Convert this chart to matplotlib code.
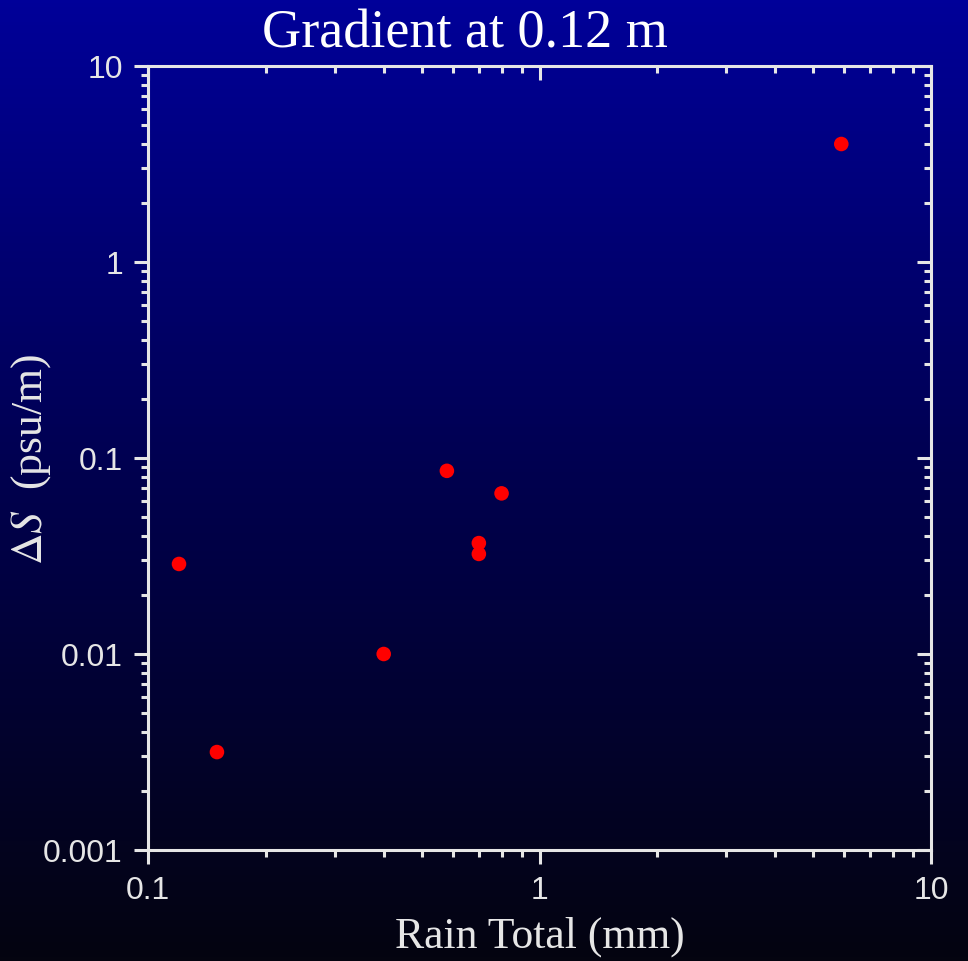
import numpy as np
import matplotlib.pyplot as plt
from matplotlib.colors import LinearSegmentedColormap
from matplotlib.ticker import LogLocator, FixedLocator, NullFormatter

# Data
rain_total = [5.9, 0.12, 0.15, 0.4, 0.58, 0.8, 0.7, 0.7]
delta_s = [4.0, 0.0288, 0.00316, 0.01, 0.086, 0.066, 0.0368, 0.0324]

x_ticks = [0.1, 1, 10]
x_labels = ['0.1', '1', '10']
y_ticks = [0.001, 0.01, 0.1, 1, 10]
y_labels = ['0.001', '0.01', '0.1', '1', '10']

plt.rcParams['mathtext.fontset'] = 'stix'

fig = plt.figure(figsize=(9.68, 9.62), dpi=100)

# Blue-to-black gradient background
bg = fig.add_axes([0, 0, 1, 1], zorder=-10)
cmap = LinearSegmentedColormap.from_list('bg', ['#000099', '#00004e', '#040410'])
grad = np.linspace(0, 1, 256).reshape(-1, 1)
bg.imshow(grad, aspect='auto', cmap=cmap, extent=[0, 1, 0, 1])
bg.set_axis_off()

W, H = 968, 962
left, right, top, bottom = 148, 931, 67, 851
ax = fig.add_axes([left / W, 1 - bottom / H, (right - left) / W, (bottom - top) / H])
ax.patch.set_alpha(0)

ax.scatter(rain_total, delta_s, s=110, color='#ff0000', edgecolors='none', zorder=3)

ax.set_xscale('log')
ax.set_yscale('log')
ax.set_xlim(0.1, 10)
ax.set_ylim(0.001, 10)

ax.xaxis.set_major_locator(FixedLocator(x_ticks))
ax.yaxis.set_major_locator(FixedLocator(y_ticks))
ax.set_xticklabels(x_labels)
ax.set_yticklabels(y_labels)
ax.xaxis.set_minor_locator(LogLocator(subs=np.arange(2, 10)))
ax.yaxis.set_minor_locator(LogLocator(subs=np.arange(2, 10)))
ax.xaxis.set_minor_formatter(NullFormatter())
ax.yaxis.set_minor_formatter(NullFormatter())

axis_col = '#e6e6e6'
for s in ax.spines.values():
    s.set_color(axis_col)
    s.set_linewidth(2.2)

# bottom/left ticks point out, top/right ticks point in
ax.tick_params(which='both', top=True, right=True, colors=axis_col, width=2.2,
               direction='out')
ax.tick_params(which='major', length=10, labelsize=23, labelcolor='#e6e6e6', pad=8)
ax.tick_params(which='minor', length=5)
for t in ax.xaxis.get_major_ticks() + ax.xaxis.get_minor_ticks():
    t.tick2line.set_marker(3)
for t in ax.yaxis.get_major_ticks() + ax.yaxis.get_minor_ticks():
    t.tick2line.set_marker(0)
for lab in ax.get_xticklabels() + ax.get_yticklabels():
    lab.set_family('Liberation Sans')

# title sits left of the axes centre in the original
fig.text(465 / W, 1 - 47 / H, 'Gradient at 0.12 m', color='white', fontsize=39,
         family='Liberation Serif', ha='center', va='baseline')
ax.set_xlabel('Rain Total (mm)', color='#e6e6e6', fontsize=31.5,
              family='Liberation Serif')
ax.set_ylabel(r'$\Delta S$  (psu/m)', color='#e6e6e6', fontsize=31.5,
              family='Liberation Serif')
ax.xaxis.set_label_coords(0.5, -0.083)
ax.yaxis.set_label_coords(-0.121, 0.5)

plt.savefig('out.png', dpi=100)
